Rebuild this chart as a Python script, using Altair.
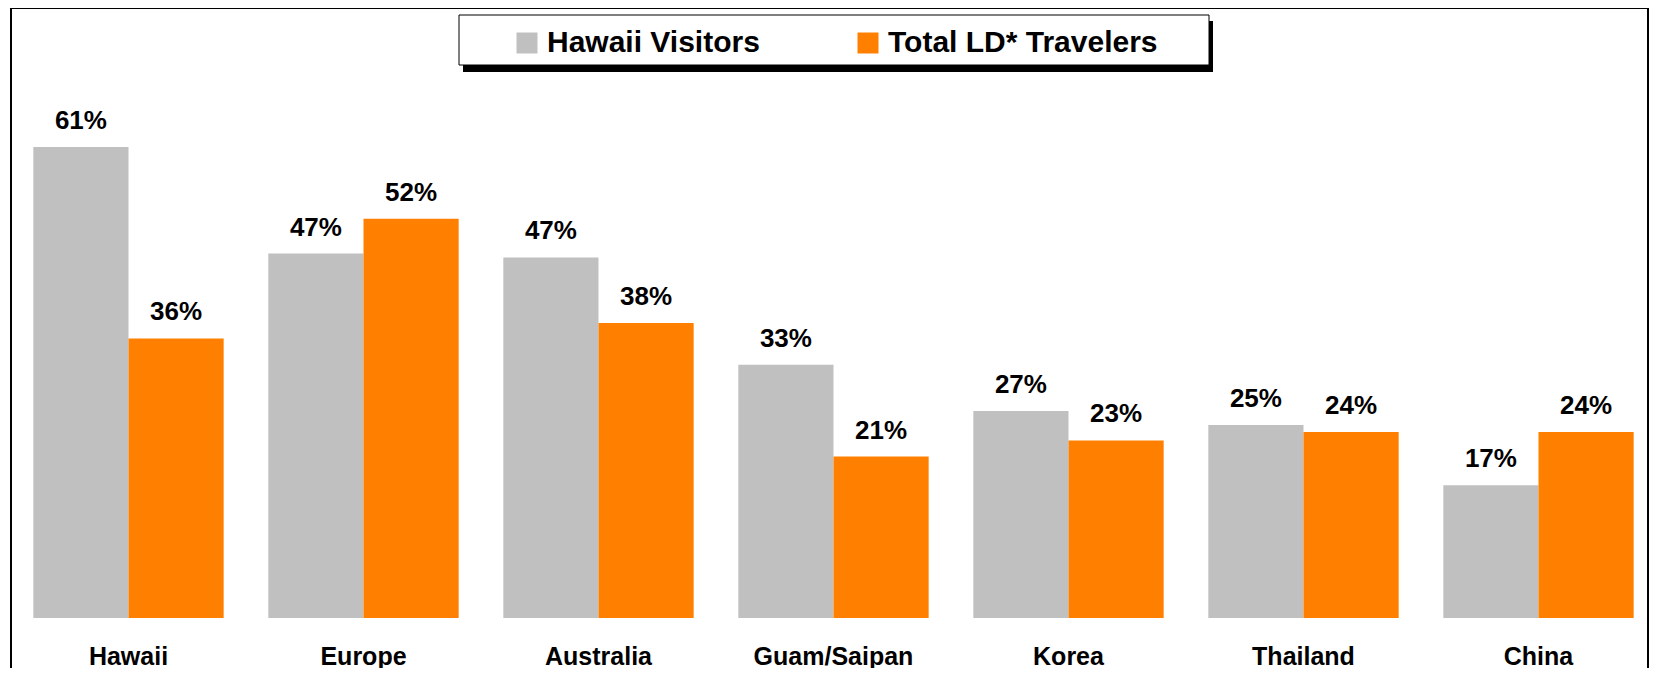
import altair as alt
import pandas as pd

categories = ["Hawaii", "Europe", "Australia", "Guam/Saipan", "Korea", "Thailand", "China"]
series_names = ["Hawaii Visitors", "Total LD* Travelers"]
hawaii_visitors = [0.610, 0.472, 0.467, 0.328, 0.268, 0.250, 0.172]
total_ld_travelers = [0.362, 0.517, 0.382, 0.209, 0.230, 0.241, 0.241]
colors = ["#C0C0C0", "#FF8000"]

rows = []
for c, a, b in zip(categories, hawaii_visitors, total_ld_travelers):
    rows.append({"category": c, "series": series_names[0], "value": a})
    rows.append({"category": c, "series": series_names[1], "value": b})
df = pd.DataFrame(rows)

W, H = 1637, 610
FONT = "Liberation Sans"

x_scale = alt.Scale(paddingInner=0.19, paddingOuter=0.078, align=0.609)
x_enc = alt.X("category:N", sort=categories, scale=x_scale,
              axis=alt.Axis(title=None, labelAngle=0, domain=False, ticks=False,
                            labelFont=FONT, labelFontWeight="bold", labelFontSize=25,
                            labelColor="black", labelBaseline="alphabetic",
                            labelPadding=46))
xo_enc = alt.XOffset("series:N", sort=series_names,
                     scale=alt.Scale(paddingInner=0, paddingOuter=0))
y_enc = alt.Y("value:Q", scale=alt.Scale(domain=[0, 0.79], nice=False), axis=None)

base = alt.Chart(df)

bars = base.mark_bar().encode(
    x=x_enc, xOffset=xo_enc, y=y_enc,
    color=alt.Color("series:N", sort=series_names,
                    scale=alt.Scale(domain=series_names, range=colors),
                    legend=alt.Legend(title=None, orient="none", direction="horizontal",
                                      legendX=501, legendY=20, columns=2,
                                      symbolType="square", symbolSize=441,
                                      symbolStrokeWidth=0, symbolOpacity=1,
                                      labelFont=FONT, labelFontWeight="bold",
                                      labelFontSize=30, labelColor="black",
                                      labelLimit=500, labelOffset=5,
                                      columnPadding=93, padding=0)),
)

labels = base.mark_text(font=FONT, fontWeight="bold", fontSize=26, color="black",
                        baseline="alphabetic", dy=-18).encode(
    x=alt.X("category:N", sort=categories, scale=x_scale), xOffset=xo_enc, y=y_enc,
    text=alt.Text("value:Q", format=".0%"),
)

one = pd.DataFrame({"k": [0]})
shadow = alt.Chart(one).mark_rect(color="black").encode(
    x=alt.value(452), x2=alt.value(1202), y=alt.value(13), y2=alt.value(64))
box = alt.Chart(one).mark_rect(fill="white", stroke="black", strokeWidth=1).encode(
    x=alt.value(448), x2=alt.value(1198), y=alt.value(7), y2=alt.value(57))
frame_left = alt.Chart(one).mark_rule(color="black", strokeWidth=2).encode(
    x=alt.value(0), y=alt.value(0), y2=alt.value(H + 60))
frame_right = alt.Chart(one).mark_rule(color="black", strokeWidth=2).encode(
    x=alt.value(W), y=alt.value(0), y2=alt.value(H + 60))
frame_top = alt.Chart(one).mark_rule(color="black", strokeWidth=2).encode(
    x=alt.value(0), x2=alt.value(W), y=alt.value(0))

chart = alt.layer(bars, labels, shadow, box, frame_left, frame_right, frame_top).properties(
    width=W, height=H,
    padding={"left": 3, "top": 0, "right": 1, "bottom": 50},
    autosize=alt.AutoSizeParams(type="none"),
    background="white",
).configure_view(stroke=None)

chart.save("out.html", embed_options={"renderer": "svg", "actions": False})
